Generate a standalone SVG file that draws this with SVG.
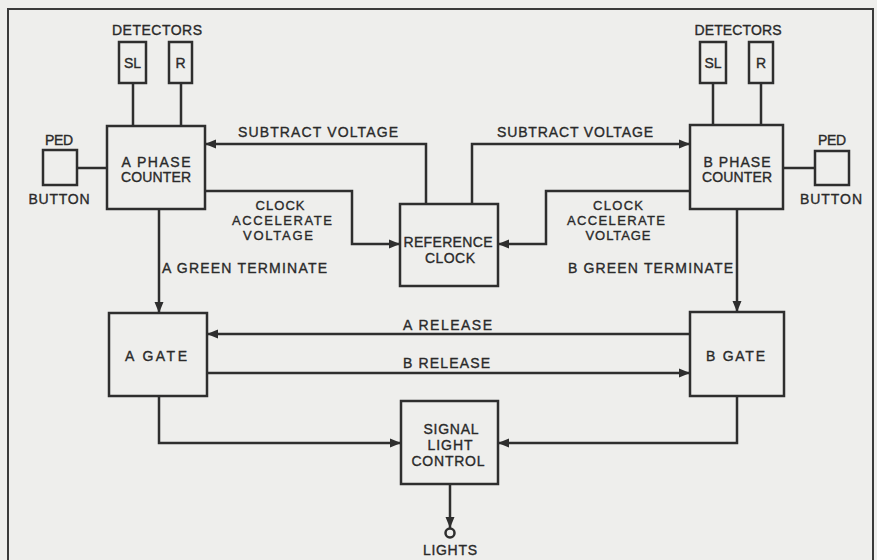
<svg xmlns="http://www.w3.org/2000/svg" width="877" height="560" viewBox="0 0 877 560">
<style>
.box{fill:none;stroke:#2e2e2e;stroke-width:2.5}
.ln{fill:none;stroke:#2e2e2e;stroke-width:2.5}
.arr{fill:none;stroke:#2e2e2e;stroke-width:2.5;marker-end:url(#ah)}
text{font-family:"Liberation Sans",Arial,sans-serif;font-size:14px;fill:#2a2a2a;stroke:#2a2a2a;stroke-width:0.35;text-anchor:middle}
.sm{font-size:13px}
</style>
<defs>
<marker id="ah" markerUnits="userSpaceOnUse" markerWidth="12" markerHeight="10" refX="11" refY="5" orient="auto">
<path d="M0,0.5 L11,5 L0,9.5 z" fill="#2e2e2e"/>
</marker>
</defs>
<rect width="877" height="560" fill="#eeeeec"/>
<path d="M8,560 V9 H873 V560" fill="none" stroke="#3a3a3a" stroke-width="2"/>

<g id="a-detectors">
<text x="157" y="35" textLength="90">DETECTORS</text>
<rect class="box" x="119" y="42" width="27" height="41"/>
<text x="132.5" y="68">SL</text>
<rect class="box" x="169" y="42" width="23" height="41"/>
<text x="180.5" y="68">R</text>
</g>
<g id="a-ped">
<text x="59" y="145" textLength="28">PED</text>
<rect class="box" x="43" y="150" width="34" height="35"/>
<text x="59" y="204" textLength="61">BUTTON</text>
</g>
<g id="a-phase-counter">
<rect class="box" x="107" y="126" width="98" height="83"/>
<text x="156" y="167" textLength="69">A PHASE</text>
<text x="156" y="182" textLength="70">COUNTER</text>
</g>

<g id="b-detectors">
<text x="738" y="35" textLength="87">DETECTORS</text>
<rect class="box" x="700" y="42" width="26" height="41"/>
<text x="713" y="68">SL</text>
<rect class="box" x="749" y="42" width="24" height="41"/>
<text x="761" y="68">R</text>
</g>
<g id="b-ped">
<text x="832" y="145" textLength="28">PED</text>
<rect class="box" x="815" y="151" width="34" height="34"/>
<text x="831" y="204" textLength="62">BUTTON</text>
</g>
<g id="b-phase-counter">
<rect class="box" x="690" y="125" width="93" height="84"/>
<text x="737" y="167" textLength="67">B PHASE</text>
<text x="737" y="182" textLength="70">COUNTER</text>
</g>

<g id="reference-clock">
<rect class="box" x="400" y="204" width="98" height="82"/>
<text x="448" y="247" textLength="89">REFERENCE</text>
<text x="450" y="263" textLength="50">CLOCK</text>
</g>

<g id="a-gate">
<rect class="box" x="109" y="313" width="98" height="83"/>
<text x="156" y="361" textLength="62">A  GATE</text>
</g>
<g id="b-gate">
<rect class="box" x="690" y="312" width="94" height="84"/>
<text x="735.5" y="361" textLength="59">B  GATE</text>
</g>

<g id="signal-light-control">
<rect class="box" x="401" y="401" width="97" height="83"/>
<text x="451" y="434" textLength="55">SIGNAL</text>
<text x="450" y="450" textLength="45">LIGHT</text>
<text x="448" y="466" textLength="73">CONTROL</text>
</g>

<g id="lights">
<circle cx="450" cy="533" r="4.5" fill="none" stroke="#2e2e2e" stroke-width="2.5"/>
<text x="450" y="555" textLength="54">LIGHTS</text>
</g>

<g id="connectors">
<path class="ln" d="M133,83 V126 M181,83 V126 M713,83 V125 M761,83 V125 M77,168 H107 M783,168 H815"/>
<path class="arr" d="M426,204 V144 H205"/>
<path class="arr" d="M472,204 V144 H690"/>
<path class="arr" d="M205,191 H352 V244 H400"/>
<path class="arr" d="M690,191 H546 V244 H498"/>
<path class="arr" d="M159,209 V313"/>
<path class="arr" d="M737,209 V312"/>
<path class="arr" d="M690,334 H207"/>
<path class="arr" d="M207,373 H690"/>
<path class="arr" d="M159,396 V443 H401"/>
<path class="arr" d="M737,396 V443 H498"/>
<path class="arr" d="M450,484 V528"/>
</g>

<g id="labels">
<text x="318" y="137" textLength="160">SUBTRACT  VOLTAGE</text>
<text x="575" y="137" textLength="156">SUBTRACT  VOLTAGE</text>
<text class="sm" x="280" y="210" textLength="49">CLOCK</text>
<text class="sm" x="282" y="225" textLength="100">ACCELERATE</text>
<text class="sm" x="278" y="240" textLength="70">VOLTAGE</text>
<text class="sm" x="618" y="210" textLength="50">CLOCK</text>
<text class="sm" x="616" y="225" textLength="98">ACCELERATE</text>
<text class="sm" x="618" y="240" textLength="65">VOLTAGE</text>
<text x="244.5" y="273" textLength="165">A GREEN  TERMINATE</text>
<text x="650.5" y="273" textLength="165">B  GREEN  TERMINATE</text>
<text x="447.5" y="330" textLength="89">A  RELEASE</text>
<text x="446.5" y="368" textLength="87">B  RELEASE</text>
</g>
</svg>
